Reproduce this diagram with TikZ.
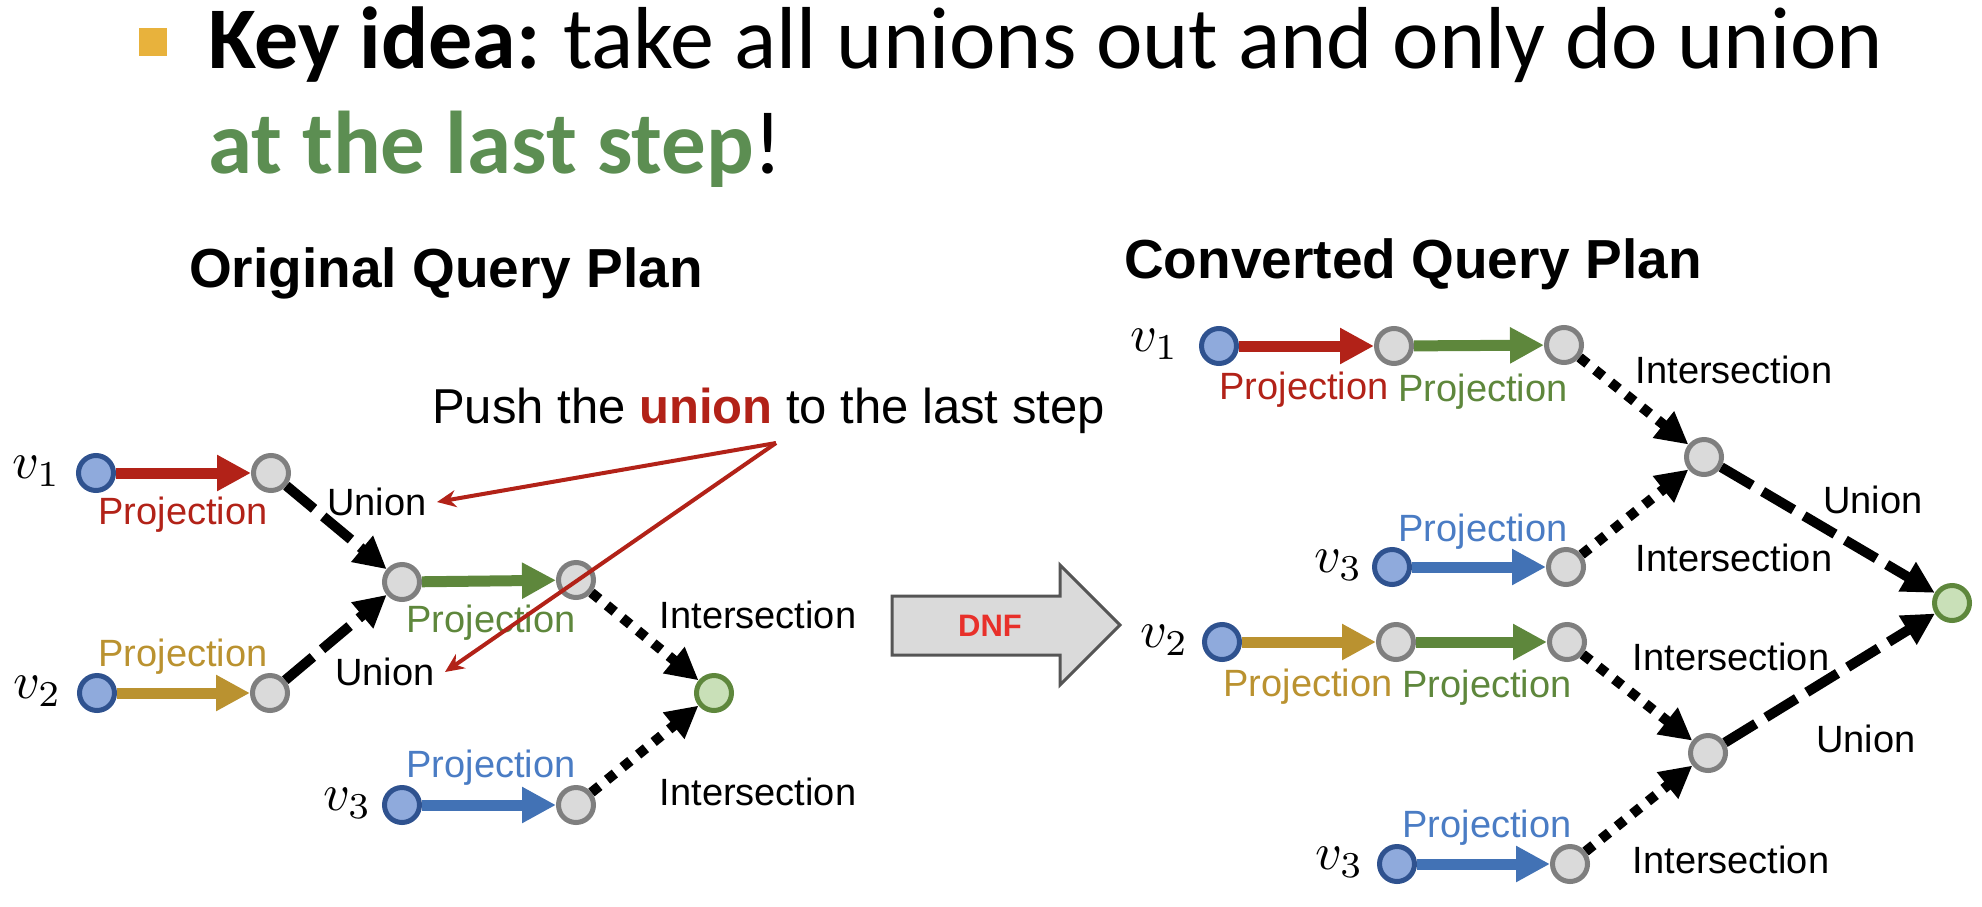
\documentclass[tikz,border=0pt]{standalone}
\usepackage{fontspec}
\setmainfont{Liberation Sans}
\newfontfamily\titlefont{Carlito}
\usetikzlibrary{arrows.meta}
\definecolor{vfill}{HTML}{8FAADC}
\definecolor{vborder}{HTML}{2F528F}
\definecolor{gfill}{HTML}{DADADA}
\definecolor{gborder}{HTML}{7F7F7F}
\definecolor{tfill}{HTML}{C9E0B8}
\definecolor{tborder}{HTML}{5E873C}
\definecolor{cred}{HTML}{B22218}
\definecolor{cgreen}{HTML}{5E873C}
\definecolor{corange}{HTML}{BA9230}
\definecolor{cblue}{HTML}{4272B5}
\definecolor{cbluetext}{HTML}{4A7CC4}
\definecolor{titlegreen}{HTML}{5C8E52}
\definecolor{bulletc}{HTML}{E8B23C}
\definecolor{dnfred}{HTML}{E8302A}
\definecolor{dnffill}{HTML}{DADADA}
\definecolor{dnfborder}{HTML}{555555}
\newcommand{\vlabel}[1]{\scalebox{5.2}{$v_{#1}$}}
\begin{document}
\begin{tikzpicture}[x=1pt,y=-1pt,
  vnode/.style={circle,draw=vborder,fill=vfill,line width=5pt,minimum size=35pt,inner sep=0pt},
  gnode/.style={circle,draw=gborder,fill=gfill,line width=5pt,minimum size=35pt,inner sep=0pt},
  tnode/.style={circle,draw=tborder,fill=tfill,line width=5pt,minimum size=35pt,inner sep=0pt},
  projarrow/.style={line width=11pt,-{Triangle[length=34pt,width=34pt]}},
  dasharrow/.style={line width=10pt,dash pattern=on 36pt off 12pt,-{Triangle[length=32pt,width=32pt]}},
  dotarrow/.style={line width=10pt,dash pattern=on 10pt off 10pt,-{Triangle[length=32pt,width=32pt]}},
  pointer/.style={draw=cred,line width=4pt,-{Stealth[length=19pt,width=17pt]}},
  lab/.style={font=\fontsize{38}{40}\selectfont,inner sep=0pt},
  vlab/.style={inner sep=0pt,anchor=east},
  head/.style={font=\fontsize{55}{57}\selectfont\bfseries,inner sep=0pt,anchor=base west}
]
\useasboundingbox (0,0) rectangle (1982,906);
% title
\fill[bulletc] (139,28) rectangle (167,56);
\node[anchor=base west,inner sep=0pt,font=\titlefont\fontsize{88}{94}\selectfont] (t1) at (208,68) {\textbf{Key idea:}\hspace{-4pt} take all unions out and only do union};
\node[anchor=base west,inner sep=0pt,font=\titlefont\fontsize{89}{94}\selectfont] (t2) at (208,173) {\textcolor{titlegreen}{\textbf{at the last step}}!};
% headings
\node[head] (h1) at (189,287) {Original Query Plan};
\node[head] (h2) at (1124,278) {Converted Query Plan};
% ---------- left diagram
\node[vnode] (lv1) at (96,473) {};
\node[gnode] (la1) at (271,473) {};
\node[gnode] (lb) at (402,582) {};
\node[gnode] (lc) at (576,580) {};
\node[vnode] (lv2) at (97,693) {};
\node[gnode] (la2) at (270,693) {};
\node[tnode] (lt) at (714,693) {};
\node[vnode] (lv3) at (402,805) {};
\node[gnode] (la3) at (576,805) {};
\node[vlab] (lv1l) at ([xshift=-15pt,yshift=2pt]lv1.west) {\vlabel{1}};
\node[vlab] (lv2l) at ([xshift=-15pt,yshift=2pt]lv2.west) {\vlabel{2}};
\node[vlab] (lv3l) at ([xshift=-10pt,yshift=2pt]lv3.west) {\vlabel{3}};
\draw[projarrow,cred] (lv1) -- (la1);
\draw[projarrow,corange] (lv2) -- (la2);
\draw[projarrow,cgreen] (lb) -- (lc);
\draw[projarrow,cblue] (lv3) -- (la3);
\draw[dasharrow] (la1) -- (lb);
\draw[dasharrow] (la2) -- (lb);
\draw[dotarrow] (lc) -- (lt);
\draw[dotarrow] (la3) -- (lt);
\node[lab,text=cred] (lp1) at (183,515) {Projection};
\node[lab,text=corange] (lp2) at (183,657) {Projection};
\node[lab,text=cgreen] (lp3) at (491,623) {Projection};
\node[lab,text=cbluetext] (lp4) at (491,768) {Projection};
\node[lab] (lu1) at (377,502) {Union};
\node[lab] (lu2) at (385,672) {Union};
\node[lab] (li1) at (758,615) {Intersection};
\node[lab] (li2) at (758,792) {Intersection};
% push text and pointers
\node[anchor=base west,inner sep=0pt,font=\fontsize{49}{52}\selectfont] (push) at (432,423) {Push the \textcolor{cred}{\textbf{union}} to the last step};
\coordinate (apex) at (776,443);
\coordinate (tip1) at (437,502);
\coordinate (tip2) at (445,672);
\draw[pointer] (apex) -- (tip1);
\draw[pointer] (apex) -- (tip2);
% ---------- DNF arrow
\draw[fill=dnffill,draw=dnfborder,line width=3pt,line join=miter]
  (892,596) -- (1060,596) -- (1060,565) -- (1120,625) -- (1060,685) -- (1060,655) -- (892,655) -- cycle;
\node[inner sep=0pt,text=dnfred,font=\fontsize{31}{33}\selectfont\bfseries] (dnf) at (990,626) {DNF};
% ---------- right diagram
\node[vnode] (rv1) at (1219,346) {};
\node[gnode] (r11) at (1394,346) {};
\node[gnode] (r12) at (1564,345) {};
\node[vnode] (rv3a) at (1392,567) {};
\node[gnode] (r31) at (1566,567) {};
\node[vnode] (rv2) at (1222,642) {};
\node[gnode] (r21) at (1396,642) {};
\node[gnode] (r22) at (1567,642) {};
\node[vnode] (rv3b) at (1397,864) {};
\node[gnode] (r41) at (1570,864) {};
\node[gnode] (rp) at (1704,457) {};
\node[gnode] (rq) at (1708,753) {};
\node[tnode] (rt) at (1952,603) {};
\node[vlab] (rv1l) at ([xshift=-20pt,yshift=2pt]rv1.west) {\vlabel{1}};
\node[vlab] (rv3al) at ([xshift=-9pt,yshift=2pt]rv3a.west) {\vlabel{3}};
\node[vlab] (rv2l) at ([xshift=-13pt,yshift=2pt]rv2.west) {\vlabel{2}};
\node[vlab] (rv3bl) at ([xshift=-13pt,yshift=2pt]rv3b.west) {\vlabel{3}};
\draw[projarrow,cred] (rv1) -- (r11);
\draw[projarrow,cgreen] (r11) -- (r12);
\draw[projarrow,cblue] (rv3a) -- (r31);
\draw[projarrow,corange] (rv2) -- (r21);
\draw[projarrow,cgreen] (r21) -- (r22);
\draw[projarrow,cblue] (rv3b) -- (r41);
\draw[dotarrow] (r12) -- (rp);
\draw[dotarrow] (r31) -- (rp);
\draw[dotarrow] (r22) -- (rq);
\draw[dotarrow] (r41) -- (rq);
\draw[dasharrow] (rp) -- (rt);
\draw[dasharrow] (rq) -- (rt);
\node[lab,text=cred] (rp1) at (1304,390) {Projection};
\node[lab,text=cgreen] (rp2) at (1483,392) {Projection};
\node[lab,text=cbluetext] (rp3) at (1483,532) {Projection};
\node[lab,text=corange] (rp4) at (1308,687) {Projection};
\node[lab,text=cgreen] (rp5) at (1487,688) {Projection};
\node[lab,text=cbluetext] (rp6) at (1487,828) {Projection};
\node[lab] (ri1) at (1734,370) {Intersection};
\node[lab] (ri2) at (1734,558) {Intersection};
\node[lab] (ri3) at (1731,657) {Intersection};
\node[lab] (ri4) at (1731,860) {Intersection};
\node[lab] (ru1) at (1873,500) {Union};
\node[lab] (ru2) at (1866,739) {Union};
\end{tikzpicture}
\end{document}
